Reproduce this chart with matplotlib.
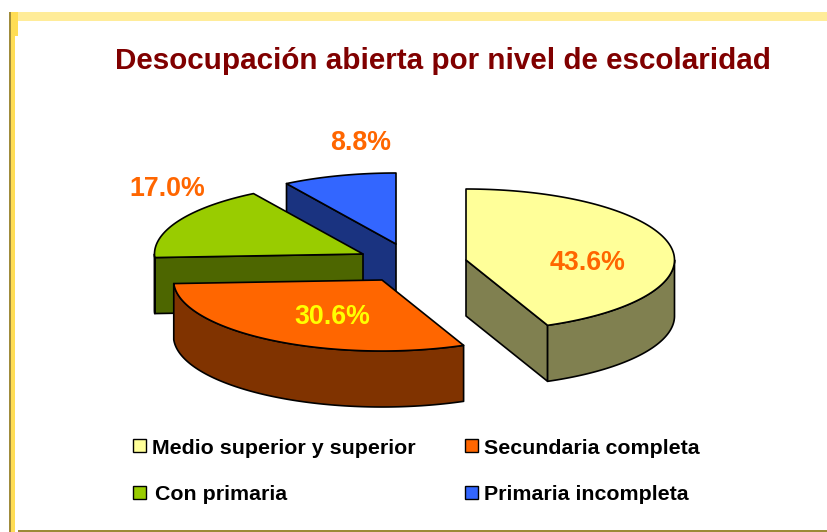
import numpy as np
import matplotlib
matplotlib.use('Agg')
import matplotlib.pyplot as plt
from matplotlib.patches import Polygon, Rectangle

plt.rcParams['font.family'] = ['Liberation Sans', 'DejaVu Sans']

title = 'Desocupación abierta por nivel de escolaridad'
categories = ['Medio superior y superior', 'Secundaria completa',
              'Con primaria', 'Primaria incompleta']
values = [43.6, 30.6, 17.0, 8.8]
labels = ['43.6%', '30.6%', '17.0%', '8.8%']

top_colors = ['#FFFF99', '#FF6600', '#99CC00', '#3366FF']
side_colors = ['#808050', '#803300', '#4D6600', '#1A3380']
label_colors = ['#FF6600', '#FFFF00', '#FF6600', '#FF6600']

# layout, in pixels of the picture
apex = [(466, 260), (382, 280), (363, 254), (396, 244)]
label_pos = [(588, 263), (332, 317), (167, 189), (361, 143)]
legend_box = [(133, 445), (465, 445), (133, 492), (465, 492)]
legend_txt = [(152, 448), (484, 448), (155, 494), (484, 494)]
RX, RY, DEPTH = 208.5, 71, 56


def rim(center, t0, t1):
    # clockwise from north, ellipse squashed for the tilt
    t = np.radians(np.linspace(t0, t1, 120))
    return np.column_stack((center[0] + RX*np.sin(t), center[1] - RY*np.cos(t)))


def face(ax, pts, color, lw=1.2):
    ax.add_patch(Polygon(pts, closed=True, facecolor=color, edgecolor='black',
                         linewidth=lw, joinstyle='round'))


def wedge(ax, center, t0, t1, top, side):
    center = np.array(center, dtype=float)
    down = np.array([0, DEPTH])
    start = rim(center, t0, t0)[0]
    end = rim(center, t1, t1)[0]
    # only faces turned towards the viewer get drawn
    if 180 < t0 < 360:
        face(ax, [center, start, start+down, center+down], side)
    if 0 < t1 < 180:
        face(ax, [center, end, end+down, center+down], side)
    a, b = max(t0, 90), min(t1, 270)
    if a < b:
        arc = rim(center, a, b)
        face(ax, np.vstack((arc, arc[::-1]+down)), side)
    face(ax, np.vstack(([center], rim(center, t0, t1))), top)


def frame(ax):
    ax.add_patch(Rectangle((10, 12), 817, 9, facecolor='#FFEC99', edgecolor='none'))
    ax.add_patch(Rectangle((10, 12), 8, 24, facecolor='#FFDD55', edgecolor='none'))
    ax.add_patch(Rectangle((10, 12), 5, 520, facecolor='#FFDD55', edgecolor='none'))
    ax.add_patch(Rectangle((9, 12), 1.5, 520, facecolor='#A08C3C', edgecolor='none'))
    ax.add_patch(Rectangle((18, 530), 809, 2, facecolor='#9C8A38', edgecolor='none'))


def main():
    fig = plt.figure(figsize=(8.27, 5.32), dpi=100)
    ax = fig.add_axes([0, 0, 1, 1])
    ax.set_xlim(0, 827)
    ax.set_ylim(532, 0)
    ax.axis('off')
    frame(ax)

    ax.text(443, 61, title, color='#800000', fontsize=21.3, fontweight='bold',
            ha='center', va='center')

    edges = np.concatenate(([0], np.cumsum(values)))/np.sum(values)*360
    for ii in reversed(range(len(values))):
        wedge(ax, apex[ii], edges[ii], edges[ii+1], top_colors[ii], side_colors[ii])

    for ii, lab in enumerate(labels):
        ax.text(label_pos[ii][0], label_pos[ii][1], lab, color=label_colors[ii],
                fontsize=19.3, fontweight='bold', ha='center', va='center')

    for ii, cat in enumerate(categories):
        x, y = legend_box[ii]
        ax.add_patch(Rectangle((x, y-6.5), 13, 13, facecolor=top_colors[ii],
                               edgecolor='black', linewidth=1))
        ax.text(legend_txt[ii][0], legend_txt[ii][1], cat, color='black',
                fontsize=15.4, fontweight='bold', ha='left', va='center')

    fig.savefig('out.png', dpi=100)


main()
